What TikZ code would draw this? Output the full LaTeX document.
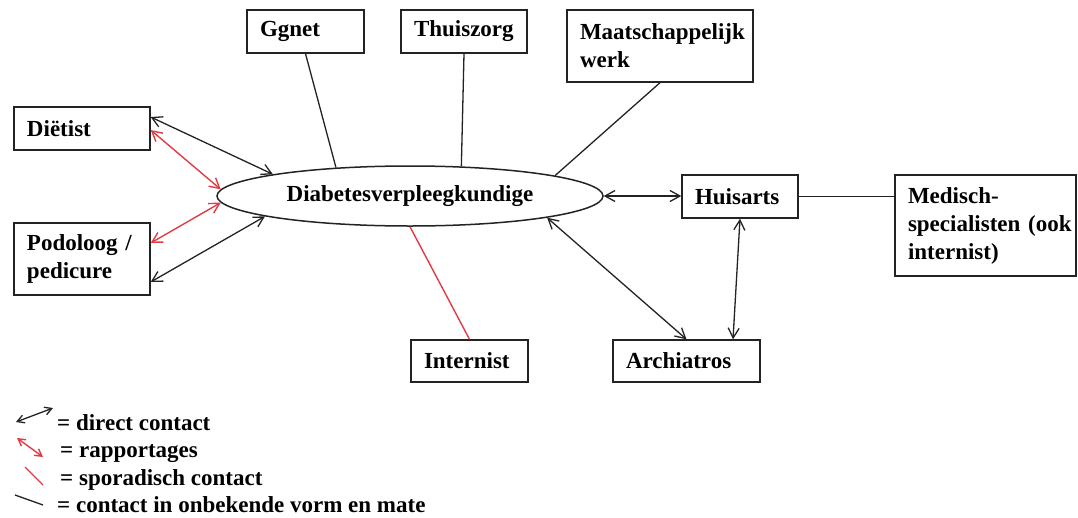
\documentclass[tikz,border=0pt]{standalone}
\usepackage{fontspec}
\setmainfont{Liberation Serif}
\usetikzlibrary{shapes.geometric,arrows.meta}
\definecolor{ln}{RGB}{35,35,35}
\definecolor{rl}{RGB}{225,60,70}
\begin{document}
\begin{tikzpicture}[x=1pt,y=-1pt,
  font=\bfseries\fontsize{23pt}{28pt}\selectfont,
  box/.style={draw=ln, line width=1.4pt, rectangle, inner xsep=13pt, inner ysep=0pt, align=left},
  conn/.style={draw=ln, line width=1.3pt},
  dbl/.style={conn, {Straight Barb[length=10pt,width=11pt]}-{Straight Barb[length=10pt,width=11pt]}},
  rdbl/.style={draw=rl, line width=1.4pt, {Straight Barb[length=10pt,width=11pt]}-{Straight Barb[length=10pt,width=11pt]}},
  rline/.style={draw=rl, line width=1.4pt},
  legtxt/.style={anchor=base west, inner sep=0pt}]
\useasboundingbox (0,0) rectangle (1078,517);

% nodes
\node[box, minimum width=136pt, minimum height=43pt, text width=110pt] (diet) at (82,128.5) {Diëtist};
\node[box, minimum width=136pt, minimum height=72pt, text width=110pt] (podo) at (82,259) {\mbox{Podoloog /}\\pedicure};
\node[box, minimum width=117pt, minimum height=43pt, text width=91pt] (ggnet) at (305.5,31.5) {Ggnet};
\node[box, minimum width=126pt, minimum height=43pt, text width=100pt] (thuis) at (464,31.5) {Thuiszorg};
\node[box, minimum width=186pt, minimum height=72pt, text width=160pt] (maats) at (660,46) {\mbox{Maatschappelijk}\\werk};
\node[ellipse, draw=ln, line width=1.5pt, minimum width=386pt, minimum height=60pt, inner sep=0pt] (ell) at (410,196) {Diabetesverpleegkundige};
\node[box, minimum width=116pt, minimum height=43pt, text width=90pt] (huis) at (740,196.5) {Huisarts};
\node[box, minimum width=181pt, minimum height=101pt, text width=155pt] (med) at (985.5,225.5) {Medisch-\\\mbox{specialisten (ook}\\internist)};
\node[box, minimum width=117pt, minimum height=42pt, text width=91pt] (intern) at (469.5,361) {Internist};
\node[box, minimum width=147pt, minimum height=42pt, text width=121pt] (arch) at (686.5,361) {Archiatros};

% connectors
\draw[dbl] ([yshift=11.5pt]diet.east) -- (ell.171.3);
\draw[rdbl] ([yshift=-1.5pt]diet.east) -- (ell.178.8);
\draw[rdbl] ([yshift=16pt]podo.east) -- (ell.182.6);
\draw[dbl] ([yshift=-23pt]podo.east) -- (ell.188.7);
\draw[conn] (ggnet.south) -- (ell.159.8);
\draw[conn] (thuis.south) -- (ell.30);
\draw[conn] (maats.south) -- (ell.8.8);
\draw[dbl] (ell.east) -- (ell.east -| huis.west);
\draw[conn] (huis.east) -- (huis.east -| med.west);
\draw[dbl] (huis.south) -- ([xshift=46.5pt]arch.north);
\draw[dbl] (ell.351.3) -- (arch.north);
\draw[rline] (ell.south) -- (intern.north);

% legend
\coordinate (l1a) at (16,422); \coordinate (l1b) at (53,408);
\coordinate (l2a) at (17,438); \coordinate (l2b) at (43,457);
\coordinate (l3a) at (25,467); \coordinate (l3b) at (43,485);
\coordinate (l4a) at (15,495); \coordinate (l4b) at (43,505);
\draw[conn, {Straight Barb[length=7pt,width=8pt]}-{Straight Barb[length=7pt,width=8pt]}] (l1a) -- (l1b);
\draw[rline, {Straight Barb[length=7pt,width=8pt]}-{Straight Barb[length=7pt,width=8pt]}] (l2a) -- (l2b);
\draw[rline] (l3a) -- (l3b);
\draw[conn] (l4a) -- (l4b);
\node[legtxt] (lt1) at (57,430) {= direct contact};
\node[legtxt] (lt2) at (60,457.5) {= rapportages};
\node[legtxt] (lt3) at (60,485) {= sporadisch contact};
\node[legtxt] (lt4) at (57,512.5) {= contact in onbekende vorm en mate};
\end{tikzpicture}
\end{document}
